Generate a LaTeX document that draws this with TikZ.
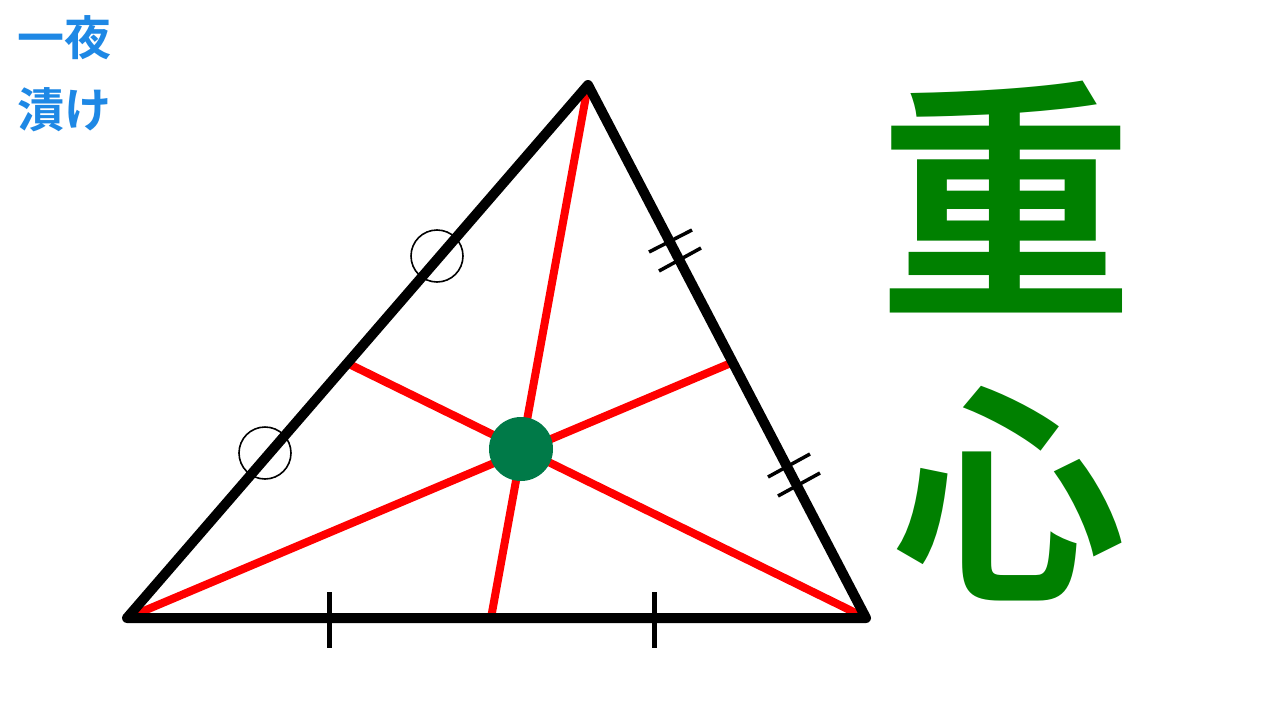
\documentclass[tikz,border=0pt]{standalone}
\usepackage{fontspec}
\newfontfamily\cjk{Noto Sans CJK JP}[BoldFont={Noto Sans CJK JP Bold}]
\definecolor{cgreen}{RGB}{0,122,72}
\definecolor{kgreen}{RGB}{0,128,0}
\definecolor{tblue}{RGB}{30,136,229}
\begin{document}
\begin{tikzpicture}[x=1pt,y=-1pt,
  side/.style={line width=10, line join=round, line cap=round},
  median/.style={red, line width=8},
  tickmark/.style={line width=5},
  dtick/.style={line width=3.5},
  ring/.style={draw, circle, line width=1.6, minimum size=52, inner sep=0},
  dot/.style={circle, fill=cgreen, minimum size=64, inner sep=0},
  logo/.style={anchor=base west, text=tblue, inner sep=0, font=\cjk\bfseries\fontsize{47}{47}\selectfont},
  kanji/.style={anchor=base, text=kgreen, inner sep=0, font=\cjk\bfseries\fontsize{255}{255}\selectfont}]
\fill[white] (0,0) rectangle (1280,720);
\useasboundingbox (0,0) rectangle (1280,720);
% vertices and median feet
\coordinate (A) at (588,85);
\coordinate (B) at (127,618);
\coordinate (C) at (866,618);
\coordinate (Mab) at (349,364);
\coordinate (Mac) at (731,363);
\coordinate (Mbc) at (491,618);
% medians
\draw[median] (A) -- (Mbc);
\draw[median] (B) -- (Mac);
\draw[median] (C) -- (Mab);
% triangle
\draw[side] (A) -- (B) -- (C) -- cycle;
% equal-length marks
\draw[tickmark] (329,592) -- (329,648);
\draw[tickmark] (654,592) -- (654,648);
\node[ring] (r1) at (265,453) {};
\node[ring] (r2) at (437,256) {};
\draw[dtick] (649,252) -- (692,230);
\draw[dtick] (659,271) -- (701,248);
\draw[dtick] (768,477) -- (810,454);
\draw[dtick] (778,496) -- (820,473);
% centroid
\node[dot] (G) at (521,449) {};
% texts
\node[logo] (t1) at (17,55) {一夜};
\node[logo] (t2) at (17,127) {漬け};
\node[kanji] (k1) at (1006,297) {重};
\node[kanji,font=\cjk\bfseries\fontsize{232}{232}\selectfont] (k2) at (1009,582) {心};
\end{tikzpicture}
\end{document}
